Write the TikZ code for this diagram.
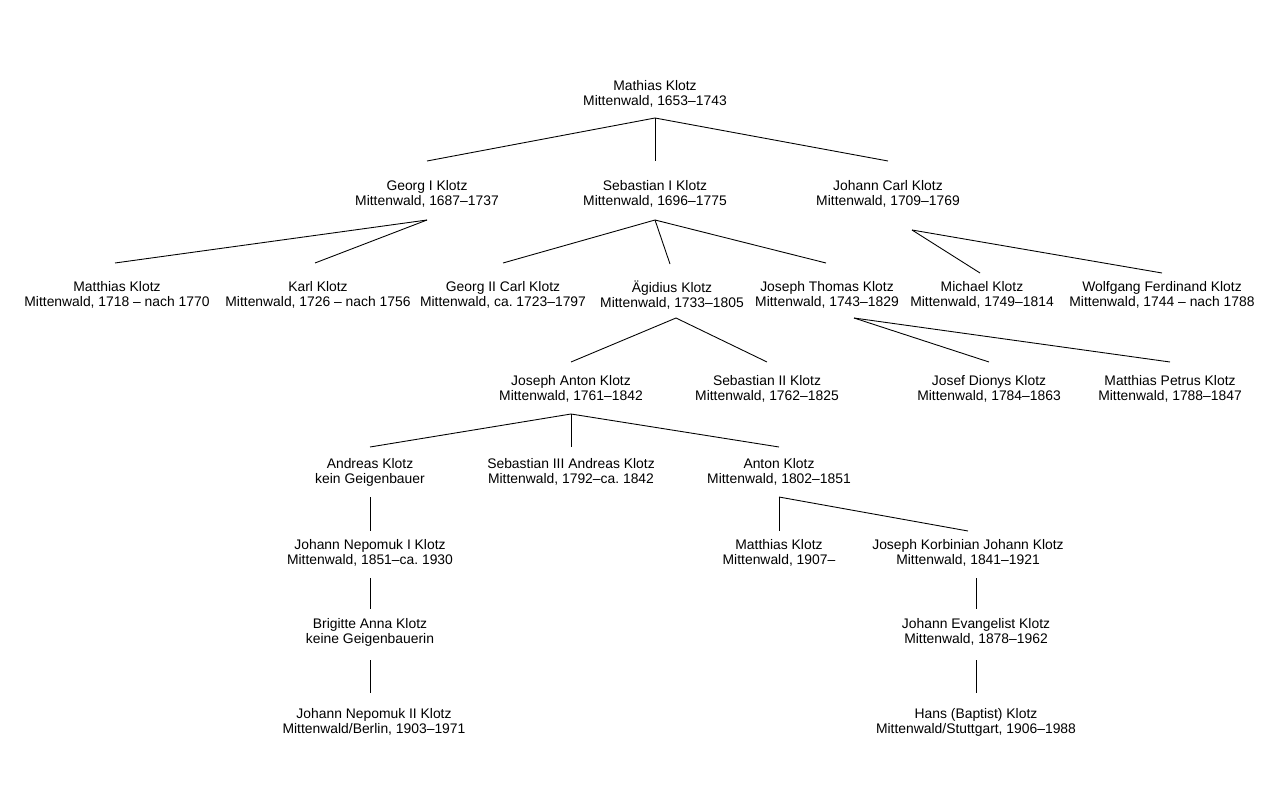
\documentclass[tikz,border=0pt]{standalone}
\usepackage{fontspec}
\setmainfont{Liberation Sans}
\frenchspacing
\begin{document}
\begin{tikzpicture}[x=0.02cm,y=-0.02cm,
  person/.style={inner sep=0pt, align=center, font=\fontsize{7.9pt}{8.5pt}\selectfont\frenchspacing},
  link/.style={draw=black, line width=0.5pt}]
\useasboundingbox[fill=white] (0,0) rectangle (1280,800);
\newcommand\kante[4]{\draw[link] ([shift={#2}]#1.center) -- ([shift={#4}]#3.center);}
% nodes
\node[person] (root) at (655,94) {Mathias Klotz\\Mittenwald, 1653–1743};
\node[person] (G1) at (427,194) {Georg I Klotz\\Mittenwald, 1687–1737};
\node[person] (S1) at (655,194) {Sebastian I Klotz\\Mittenwald, 1696–1775};
\node[person] (JC) at (888,194) {Johann Carl Klotz\\Mittenwald, 1709–1769};
\node[person] (MK1) at (117,295) {Matthias Klotz\\Mittenwald, 1718 – nach 1770};
\node[person] (KK) at (318,295) {Karl Klotz\\Mittenwald, 1726 – nach 1756};
\node[person] (G2) at (503,295) {Georg II Carl Klotz\\Mittenwald, ca. 1723–1797};
\node[person] (AE) at (672,295) {Ägidius Klotz\\Mittenwald, 1733–1805};
\node[person] (JT) at (827,295) {Joseph Thomas Klotz\\Mittenwald, 1743–1829};
\node[person] (MI) at (982,295) {Michael Klotz\\Mittenwald, 1749–1814};
\node[person] (WF) at (1162,295) {Wolfgang Ferdinand Klotz\\Mittenwald, 1744 – nach 1788};
\node[person] (JA) at (571,389) {Joseph Anton Klotz\\Mittenwald, 1761–1842};
\node[person] (S2) at (767,389) {Sebastian II Klotz\\Mittenwald, 1762–1825};
\node[person] (JD) at (989,389) {Josef Dionys Klotz\\Mittenwald, 1784–1863};
\node[person] (MP) at (1170,389) {Matthias Petrus Klotz\\Mittenwald, 1788–1847};
\node[person] (AN) at (370,472) {Andreas Klotz\\kein Geigenbauer};
\node[person] (S3) at (571,472) {Sebastian III Andreas Klotz\\Mittenwald, 1792–ca. 1842};
\node[person] (AT) at (779,472) {Anton Klotz\\Mittenwald, 1802–1851};
\node[person] (JN1) at (370,553) {Johann Nepomuk I Klotz\\Mittenwald, 1851–ca. 1930};
\node[person] (MK2) at (779,553) {Matthias Klotz\\Mittenwald, 1907–};
\node[person] (JK) at (968,553) {Joseph Korbinian Johann Klotz\\Mittenwald, 1841–1921};
\node[person] (BA) at (370,632) {Brigitte Anna Klotz\\keine Geigenbauerin};
\node[person] (JE) at (976,632) {Johann Evangelist Klotz\\Mittenwald, 1878–1962};
\node[person] (JN2) at (374,722) {Johann Nepomuk II Klotz\\Mittenwald/Berlin, 1903–1971};
\node[person] (HB) at (976,722) {Hans (Baptist) Klotz\\Mittenwald/Stuttgart, 1906–1988};
% edges
\kante{root}{(0,24)}{G1}{(0,-33)}
\kante{root}{(0,24)}{S1}{(0,-33)}
\kante{root}{(0,24)}{JC}{(0,-33)}
\kante{G1}{(0,26)}{MK1}{(-2,-32)}
\kante{G1}{(0,26)}{KK}{(-3,-32)}
\kante{S1}{(0,26)}{G2}{(0,-32)}
\kante{S1}{(0,26)}{AE}{(-2,-31)}
\kante{S1}{(0,26)}{JT}{(-1,-32)}
\kante{JC}{(24,36)}{MI}{(-2,-22)}
\kante{JC}{(24,36)}{WF}{(0,-22)}
\kante{AE}{(4,23)}{JA}{(0,-27)}
\kante{AE}{(4,23)}{S2}{(0,-27)}
\kante{JT}{(27,23)}{JD}{(0,-27)}
\kante{JT}{(27,23)}{MP}{(0,-27)}
\kante{JA}{(0,25)}{AN}{(0,-25)}
\kante{JA}{(0,25)}{S3}{(0,-25)}
\kante{JA}{(0,25)}{AT}{(0,-25)}
\kante{AN}{(0,25)}{JN1}{(0,-22)}
\kante{AT}{(0,25)}{MK2}{(0,-22)}
\kante{AT}{(0,25)}{JK}{(0,-22)}
\kante{JN1}{(0,25)}{BA}{(0,-23)}
\kante{JK}{(8,25)}{JE}{(0,-23)}
\kante{BA}{(0,28)}{JN2}{(-4,-29)}
\kante{JE}{(0,28)}{HB}{(0,-29)}
\end{tikzpicture}
\end{document}
